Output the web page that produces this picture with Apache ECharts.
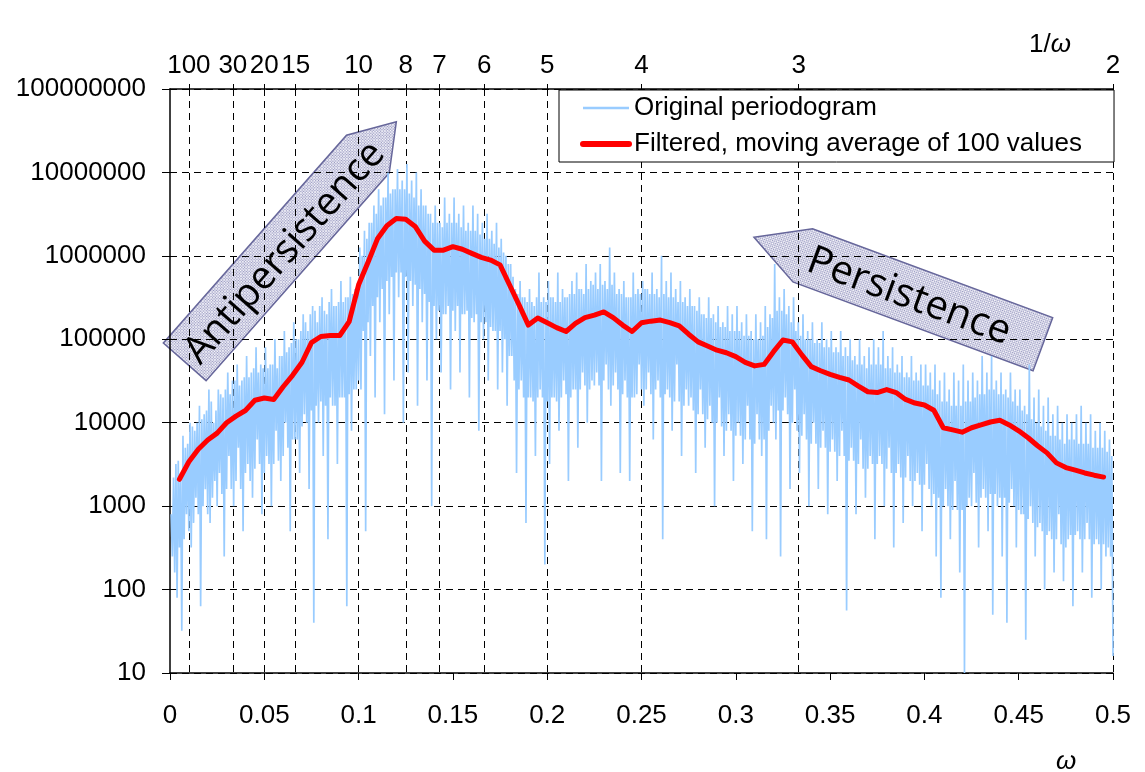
<!DOCTYPE html>
<html><head><meta charset="utf-8">
<script src="https://cdn.jsdelivr.net/npm/echarts@6/dist/echarts.min.js"></script>
<style>html,body{margin:0;padding:0;background:#fff}#chart{width:1145px;height:772px}</style>
</head><body><div id="chart"></div>
<script>
// Original periodogram: values at omega = (i+1) * periodogramStep
const periodogramStep = 0.000625;
const periodogram = [
800,250,2200,160, 3200,80,3500,320, 2500,32,7000,400, 5000,800,5600,500, 1e4,320,9000,630, 8000,1260,1e4,800, 1.6e4,63,1.1e4,1000, 1.26e4,1600,1.4e4,800, 2.5e4,630,1.8e4,1260, 1e4,2000,1.4e4,1000,
2.5e4,2500,2.2e4,1400, 2e4,250,2.5e4,1600, 4e4,4000,2.2e4,1600, 3.2e4,1000,3.2e4,2000, 5e4,5000,2.8e4,1600, 3.2e4,500,3.5e4,2500, 6.3e4,3200,3.5e4,2000, 4e4,1260,4.5e4,2800, 8e4,6300,4e4,3200, 5e4,800,4.5e4,2500,
8e4,4000,4.5e4,3200, 5e4,1000,5e4,3200, 1e5,8000,4.5e4,3500, 6.3e4,2000,6.3e4,4000, 1.26e5,1e4,7e4,5000, 8e4,500,9e4,6300, 1.6e5,6300,1e5,6300, 1e5,2500,1.26e5,9000, 2e5,1.26e4,1.6e5,1e4, 1.26e5,1600,2e5,1.4e4,
2.5e5,40,2.2e5,1.6e4, 1.6e5,1e4,2.5e5,1.8e4, 3.2e5,4000,2.2e5,1.6e4, 2e5,400,2.8e5,2e4, 4e5,1.6e4,2.5e5,1.6e4, 2.5e5,3200,2.8e5,2e4, 5e5,2e4,2.8e5,2e4, 3.2e5,63,3.2e5,2.2e4, 5.6e5,8000,3.5e5,2.5e4, 4e5,2.5e4,4.5e5,3.2e4,
1.26e6,2.5e4,1e6,1.26e5, 2e6,500,1.6e6,1.6e5, 2.5e6,6.3e4,2.5e6,2.5e5, 4e6,2e4,3.2e6,3.2e5, 6.3e6,1.6e5,4e6,4e5, 5e6,1.26e4,5e6,5e5, 1e7,2e5,5.6e6,5.6e5, 6.3e6,3.2e4,6.3e6,6.3e5, 1.1e7,3.2e5,6.3e6,6.3e5, 8e6,1e4,6.3e6,5.6e5,
1.26e7,4e4,5.6e6,5e5, 8e6,2.5e5,5e6,4.5e5, 1e7,1.6e4,4e6,4e5, 6.3e6,1.6e5,4e6,3.5e5, 4e6,3.2e4,3.2e6,2.8e5, 3.2e6,1000,2.5e6,2.5e5, 4e6,1e5,2.5e6,2.2e5, 2.5e6,4e4,2.2e6,2e5, 5e6,2e5,2.5e6,2.5e5, 3.2e6,2.5e4,2.5e6,2.2e5,
5e6,1.26e5,2.5e6,2.5e5, 3.2e6,4e4,2.2e6,2e5, 4e6,2e5,2e6,2.2e5, 2.5e6,2e4,2e6,1.8e5, 4e6,1.6e5,2e6,2e5, 3.2e6,8000,1.8e6,1.6e5, 2.5e6,1e5,1.6e6,1.6e5, 3.2e6,3.2e4,1.6e6,1.4e5, 2e6,1.26e5,1.4e6,1.26e5, 2.5e6,2.5e4,1.26e6,1.26e5,
1.6e6,4e4,1.1e6,1e5, 1e6,1.6e4,8e5,6.3e4, 8e5,6.3e4,5.6e5,3.2e4, 4e5,2500,3.5e5,2.5e4, 5e5,3.2e4,3.2e5,2e4, 3.2e5,630,2.8e5,2e4, 4e5,2e4,2.8e5,1.8e4, 2.5e5,4000,3.2e5,2e4, 6.3e5,2.5e4,2.8e5,2e4, 3.2e5,200,2.8e5,1.8e4,
5e5,3200,3.2e5,2e4, 3.2e5,2e4,2.8e5,1.8e4, 6.3e5,8000,2.8e5,2e4, 4e5,3.2e4,3.2e5,2.2e4, 3.2e5,2000,3.5e5,2e4, 5e5,2.5e4,3.5e5,2.5e4, 6.3e5,5000,4e5,2.5e4, 4e5,4e4,3.5e5,2.8e4, 8e5,1e4,4e5,2.5e4, 5e5,3.2e4,4.5e5,2.8e4,
6.3e5,4e4,4e5,2.8e4, 8e5,2000,4.5e5,3.2e4, 5e5,5e4,4e5,2.5e4, 1.26e6,1.6e4,4.5e5,2.8e4, 6.3e5,4e4,3.5e5,2.5e4, 4e5,2500,3.5e5,2.2e4, 5e5,3.2e4,3.2e5,2e4, 3.2e5,2000,3.2e5,2e4, 6.3e5,2e4,3.5e5,2.2e4, 4e5,5e4,3.5e5,2.5e4,
5e5,1.6e4,4e5,2.5e4, 4e5,4e4,3.5e5,2.2e4, 6.3e5,6300,3.5e5,2.5e4, 4e5,3.2e4,3.2e5,2e4, 1e6,400,3.5e5,2.2e4, 5e5,2.5e4,3.2e5,2e4, 6.3e5,8000,3.2e5,1.8e4, 4e5,5e4,2.8e5,1.8e4, 5e5,4000,2.8e5,1.6e4, 3.2e5,2.5e4,2.5e5,1.6e4,
4e5,2e4,2.5e5,1.4e4, 2.5e5,2500,2.2e5,1.26e4, 3.2e5,2.5e4,2e5,1.26e4, 2e5,5000,1.8e5,1.1e4, 3.2e5,1.6e4,1.8e5,1e4, 2e5,1000,1.6e5,1e4, 2.5e5,2e4,1.4e5,9000, 1.6e5,4000,1.4e5,8000, 2.5e5,1.26e4,1.26e5,8000, 2e5,2000,1.26e5,7000,
2.5e5,1e4,1.26e5,7000, 1.6e5,3200,1.1e5,6300, 2e5,1.6e4,1.1e5,6300, 1.26e5,500,1e5,5600, 2e5,1.26e4,1e5,6300, 1.6e5,4000,1.1e5,6300, 2.5e5,400,1.4e5,8000, 2e5,1.6e4,1.8e5,1e4, 8e5,6300,2.2e5,1.4e4, 3.2e5,250,2.2e5,1.4e4,
4e5,2e4,2e5,1.26e4, 2.5e5,1600,1.6e5,1e4, 3.2e5,2.5e4,1.26e5,8000, 1.6e5,2500,1.1e5,7000, 2e5,1.26e4,1e5,6300, 1.26e5,1000,1e5,5600, 1.6e5,1e4,9e4,5600, 1e5,1600,9e4,5000, 1.6e5,8000,8e4,5000, 1e5,800,8e4,4500,
1.26e5,6300,7e4,4500, 8e4,2000,7e4,4000, 1.26e5,8000,6.3e4,4000, 8e4,56,6.3e4,3500, 1e5,5000,5.6e4,3500, 6.3e4,800,5e4,3200, 1e5,6300,5e4,2800, 6.3e4,1260,4.5e4,2800, 8e4,4000,5e4,3200, 1e5,400,5e4,3200,
8e4,4000,5e4,3200, 1.26e5,1000,4.5e4,2800, 6.3e4,5000,4.5e4,2500, 8e4,320,4e4,2500, 5e4,3200,4e4,2200, 6.3e4,630,3.5e4,2200, 4e4,4000,3.5e4,2000, 6.3e4,1000,3.2e4,2000, 4e4,2500,3.2e4,1800, 5e4,500,2.8e4,1800,
5e4,3200,2.8e4,1600, 4e4,1000,2.5e4,1400, 5e4,250,2.2e4,1260, 3.2e4,80,1.8e4,1000, 4e4,1600,1.8e4,1000, 2.5e4,400,1.6e4,900, 4e4,2000,1.6e4,900, 3.2e4,160,1.6e4,900, 5e4,10,1.8e4,1000, 3.2e4,1260,1.8e4,1000,
4e4,2500,2e4,1100, 3.2e4,320,2.2e4,1260, 6.3e4,1600,2.2e4,1260, 4e4,500,2.5e4,1400, 6.3e4,50,2.5e4,1400, 3.2e4,1000,2.2e4,1260, 4e4,250,2.2e4,1260, 2.5e4,40,2e4,1100, 4e4,1600,1.8e4,1000, 2.5e4,320,1.6e4,900,
2.5e4,800,1.4e4,800, 1.6e4,25,1.26e4,700, 5e4,1000,1.1e4,630, 2e4,250,1e4,560, 2.5e4,630,9000,500, 1.6e4,100,8000,450, 2e4,500,7000,400, 1.26e4,160,7000,400, 1.6e4,800,6300,350, 1e4,126,5600,320,
1.26e4,400,6300,450, 1e4,63,6300,450, 1.26e4,500,5600,400, 1.6e4,160,5600,400, 1e4,630,5600,400, 1.26e4,80,5000,350, 8000,400,5000,350, 1e4,100,5000,350, 8000,250,4500,320, 6300,250,4000,16
];
// Filtered (moving average of 100 values): values at omega = (k+1) * filteredStep
const filteredStep = 0.005;
const filtered = [
2100,3400,4800,6200,7500,10000,12000,14000,18600,19800,
19000,27000,37000,53000,91000,108000,111000,111000,163000,450000,
840000,1.6e6,2.3e6,2.8e6,2.75e6,2.25e6,1.5e6,1.17e6,1.17e6,1.29e6,
1.2e6,1.07e6,960000,890000,780000,450000,260000,148000,180000,158000,
138000,124000,155000,182000,195000,213000,182000,148000,124000,158000,
165000,170000,158000,145000,115000,93000,83000,74000,69000,62000,
53000,48000,50000,71000,98000,93000,65000,47000,42000,38000,
35000,32500,27500,23500,23000,25000,23000,19000,17200,16300,
14100,8700,8200,7700,8700,9400,10200,10700,9400,8000,
6600,5300,4350,3300,2900,2700,2500,2350,2230
];
const xTickLabels = ['0','0.05','0.1','0.15','0.2','0.25','0.3','0.35','0.4','0.45','0.5'];
const yTickLabels = ['10','100','1000','10000','100000','1000000','10000000','100000000'];
const periodLabels = [100,30,20,15,10,8,7,6,5,4,3,2];
const seriesNames = ['Original periodogram','Filtered, moving average of 100 values'];

const periodTicks = periodLabels.map(p => 1 / p);
const FONT = 'Liberation Sans, Arial, sans-serif';

// hatch pattern for the arrows
const pc = document.createElement('canvas'); pc.width = 4; pc.height = 4;
const g = pc.getContext('2d');
g.fillStyle = '#dcdcec'; g.fillRect(0, 0, 4, 4);
g.fillStyle = '#9494bc';
g.fillRect(0, 0, 1, 1); g.fillRect(2, 2, 1, 1); g.fillRect(2, 0, 1, 1); g.fillRect(0, 2, 1, 1);
g.fillStyle = '#ffffff'; g.fillRect(1, 1, 1, 1); g.fillRect(3, 3, 1, 1);
const pattern = { image: pc, repeat: 'repeat' };

const chart = echarts.init(document.getElementById('chart'), null, { renderer: 'canvas' });
const dash = [7, 5];
chart.setOption({
  animation: false,
  backgroundColor: '#fff',
  grid: { left: 170, right: 32, top: 89, bottom: 99, containLabel: false },
  legend: {
    left: 559, top: 90, orient: 'vertical',
    itemWidth: 46, itemHeight: 12, itemGap: 10,
    padding: [5, 32, 5, 21],
    borderColor: '#000', borderWidth: 1, backgroundColor: '#fff',
    itemStyle: { opacity: 0 },
    textStyle: { fontSize: 26, fontFamily: FONT, color: '#000' },
    data: [
      { name: seriesNames[0], lineStyle: { width: 2.5 } },
      { name: seriesNames[1], lineStyle: { width: 6 } }
    ]
  },
  xAxis: [
    { type: 'value', position: 'bottom', min: 0, max: 0.5, interval: 0.05,
      axisLine: { show: true, onZero: false, lineStyle: { color: '#000', width: 1.5 } },
      axisTick: { show: true, length: 7, lineStyle: { color: '#000' } },
      axisLabel: { margin: 30, fontSize: 26, fontFamily: FONT, color: '#000',
        formatter: v => xTickLabels[Math.round(v / 0.05)] },
      splitLine: { show: false } },
    { type: 'value', position: 'top', min: 0, max: 0.5,
      axisLine: { show: true, onZero: false, lineStyle: { color: '#000', width: 1.5 } },
      axisTick: { show: true, length: 5, customValues: periodTicks, lineStyle: { color: '#000' } },
      axisLabel: { show: true, customValues: periodTicks, margin: 10, fontSize: 26, fontFamily: FONT, color: '#000',
        formatter: v => { const i = periodTicks.findIndex(t => Math.abs(t - v) < 1e-9); return i >= 0 ? String(periodLabels[i]) : ''; } },
      splitLine: { show: true, lineStyle: { color: '#000', width: 1, type: dash } } },
    { type: 'value', position: 'top', min: 0, max: 0.5,
      axisLine: { show: false },
      axisTick: { show: true, inside: true, length: 5, customValues: periodTicks, lineStyle: { color: '#000' } },
      axisLabel: { show: false }, splitLine: { show: false } }
  ],
  yAxis: {
    type: 'log', logBase: 10, min: 10, max: 1e8,
    axisLine: { show: true, lineStyle: { color: '#000', width: 1.5 } },
    axisTick: { show: true, length: 8, lineStyle: { color: '#000' } },
    axisLabel: { margin: 24, fontSize: 26, fontFamily: FONT, color: '#000',
      formatter: v => yTickLabels[Math.round(Math.log10(v)) - 1] },
    splitLine: { show: true, lineStyle: { color: '#000', width: 1, type: dash } }
  },
  series: [
    { name: seriesNames[0], type: 'line', symbol: 'none', z: 2,
      data: periodogram.map((v, i) => [(i + 1) * periodogramStep, v]),
      lineStyle: { color: '#99ccff', width: 1.7, join: 'bevel' }, itemStyle: { color: '#99ccff' } },
    { name: seriesNames[1], type: 'line', symbol: 'none', z: 3,
      data: filtered.map((v, k) => [(k + 1) * filteredStep, v]),
      lineStyle: { color: '#ff0000', width: 5, join: 'round', cap: 'round' }, itemStyle: { color: '#ff0000' } }
  ],
  graphic: [
    { type: 'group', x: 184.7, y: 361.8, rotation: 48.6 * Math.PI / 180, z: 100, children: [
      { type: 'polygon', shape: { points: [[0, -28.5], [277, -28.5], [320, 0], [277, 28.5], [0, 28.5]] },
        style: { fill: pattern, stroke: '#66669a', lineWidth: 1.5 } },
      { type: 'text', x: 148, y: 3, style: { text: 'Antipersistence', fontSize: 39, fontFamily: 'Open Sans', fill: '#000', align: 'center', verticalAlign: 'middle' } }
    ]},
    { type: 'group', x: 754, y: 237.3, rotation: -20.3 * Math.PI / 180, z: 100, children: [
      { type: 'polygon', shape: { points: [[0, 0], [52, -28.3], [308, -28.3], [308, 28.3], [52, 28.3]] },
        style: { fill: pattern, stroke: '#66669a', lineWidth: 1.5 } },
      { type: 'text', x: 166, y: 2, style: { text: 'Persistence', fontSize: 40, fontFamily: 'Open Sans', fill: '#000', align: 'center', verticalAlign: 'middle' } }
    ]},
    { type: 'text', x: 1050, y: 45, z: 100, style: { text: '1/{w|ω}', fontSize: 26, fontFamily: FONT, fill: '#000', align: 'center', verticalAlign: 'middle',
      rich: { w: { fontStyle: 'italic', fontSize: 26, fontFamily: FONT } } } },
    { type: 'text', x: 1066, y: 762, z: 100, style: { text: 'ω', fontSize: 26, fontStyle: 'italic', fontFamily: FONT, fill: '#000', align: 'center', verticalAlign: 'middle' } }
  ]
});
</script></body></html>
